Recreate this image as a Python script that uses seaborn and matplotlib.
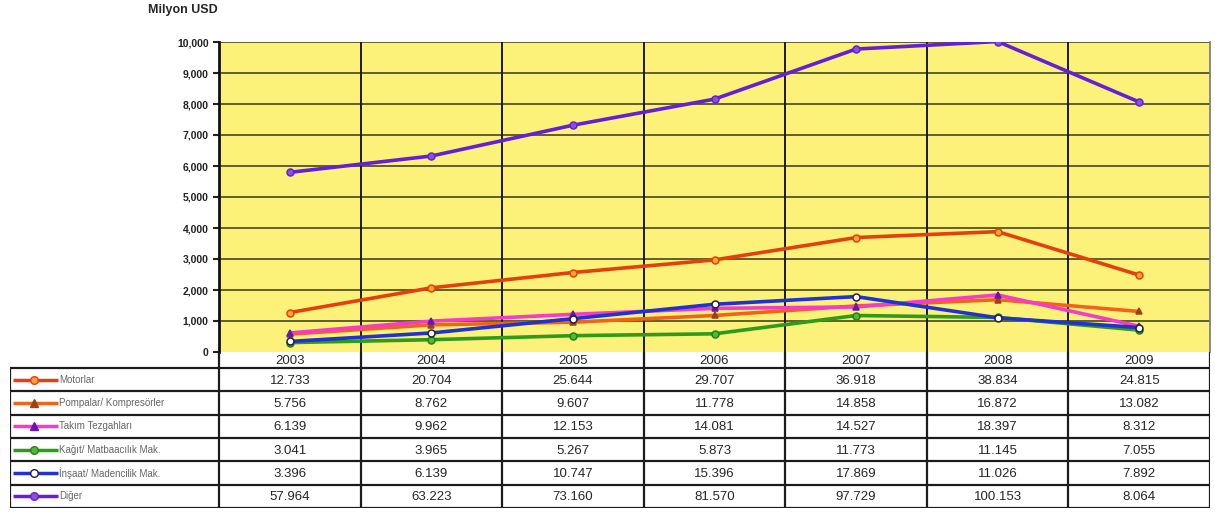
import numpy as np
import pandas as pd
import seaborn as sns
import matplotlib.pyplot as plt
from matplotlib.ticker import FuncFormatter
plt.switch_backend('Agg')

years = ["2003", "2004", "2005", "2006", "2007", "2008", "2009"]
names = ["Motorlar", "Pompalar/ Kompresörler", "Takım Tezgahları",
         "Kağıt/ Matbaacılık Mak.", "İnşaat/ Madencilik Mak.", "Diğer"]

# plotted values (Milyon USD)
motorlar = [1273, 2070, 2564, 2971, 3692, 3883, 2482]
pompalar = [576, 876, 961, 1178, 1486, 1687, 1308]
takim = [614, 996, 1215, 1408, 1453, 1840, 831]
kagit = [304, 397, 527, 587, 1177, 1115, 706]
insaat = [340, 614, 1075, 1540, 1787, 1103, 789]
diger = [5796, 6322, 7316, 8157, 9773, 10015, 8064]

# values as printed in the data table
motorlar_txt = ["12.733", "20.704", "25.644", "29.707", "36.918", "38.834", "24.815"]
pompalar_txt = ["5.756", "8.762", "9.607", "11.778", "14.858", "16.872", "13.082"]
takim_txt = ["6.139", "9.962", "12.153", "14.081", "14.527", "18.397", "8.312"]
kagit_txt = ["3.041", "3.965", "5.267", "5.873", "11.773", "11.145", "7.055"]
insaat_txt = ["3.396", "6.139", "10.747", "15.396", "17.869", "11.026", "7.892"]
diger_txt = ["57.964", "63.223", "73.160", "81.570", "97.729", "100.153", "8.064"]

values = [motorlar, pompalar, takim, kagit, insaat, diger]
texts = [motorlar_txt, pompalar_txt, takim_txt, kagit_txt, insaat_txt, diger_txt]

# line colour, marker, marker face, marker edge
styles = {
    "Motorlar": ("#e2410f", "o", "#f6a531", "#e2410f"),
    "Pompalar/ Kompresörler": ("#f0641a", "^", "#a0401a", "#a0401a"),
    "Takım Tezgahları": ("#f43cc8", "^", "#6a14b4", "#6a14b4"),
    "Kağıt/ Matbaacılık Mak.": ("#2f9a1c", "o", "#46c030", "#2f7a1c"),
    "İnşaat/ Madencilik Mak.": ("#1f32d2", "o", "#ffffff", "#202040"),
    "Diğer": ("#6420d4", "o", "#8a50e0", "#6420d4"),
}

rows = []
for n, v in zip(names, values):
    for i, y in enumerate(years):
        rows.append({"series": n, "pos": i, "value": v[i]})
df = pd.DataFrame(rows)

sns.set_style("white")
plt.rcParams['font.family'] = ['Liberation Sans', 'DejaVu Sans']

W, H = 1215, 513
fig = plt.figure(figsize=(W / 100, H / 100), dpi=100)
fig.patch.set_facecolor("white")

ax = fig.add_axes([219 / W, (H - 352) / H, 991 / W, 310 / H])
ax.set_facecolor("#fcf27a")
ax.set_xlim(-0.5, 6.5)
ax.set_ylim(0, 10000)
ax.set_yticks(np.arange(0, 10001, 1000))
ax.yaxis.set_major_formatter(FuncFormatter(lambda v, p: f"{v:,.0f}"))
ax.tick_params(axis="y", labelsize=7.5, colors="#222", length=4, width=1.5, direction="out", left=True)
for t in ax.get_yticklabels():
    t.set_fontweight("bold")
ax.set_xticks([])
for yv in np.arange(1000, 10001, 1000):
    ax.axhline(yv, color="#55532a", lw=1.3, zorder=1)
for k in range(1, 7):
    ax.axvline(k - 0.5, color="#1a1a1a", lw=1.4, zorder=1)
for s in ["top", "bottom"]:
    ax.spines[s].set_visible(False)
ax.spines["left"].set_color("#111")
ax.spines["left"].set_linewidth(2)
ax.spines["right"].set_color("#777")
ax.spines["right"].set_linewidth(1.2)

draw_order = ["Diğer", "Motorlar", "Pompalar/ Kompresörler", "Kağıt/ Matbaacılık Mak.",
              "Takım Tezgahları", "İnşaat/ Madencilik Mak."]
for n in draw_order:
    c, m, fc, ec = styles[n]
    sns.lineplot(data=df[df.series == n], x="pos", y="value", ax=ax, color=c, lw=2.6,
                 marker=m, markersize=5, markerfacecolor=fc, markeredgecolor=ec,
                 markeredgewidth=1.1, legend=False, zorder=3)
ax.set_xlabel("")
ax.set_ylabel("")
ax.set_xlim(-0.5, 6.5)
ax.set_ylim(0, 10000)

fig.text(148 / W, 1 - 10 / H, "Milyon USD", fontsize=9, fontweight="bold", va="center", ha="left")

# data table
tax = fig.add_axes([10 / W, (H - 508) / H, 1200 / W, 156 / H])
px = 991 / 7
lab_w = 209 / px
x0 = -0.5 - lab_w
tax.set_xlim(x0, 6.5)
tax.set_ylim(156, 0)
tax.axis("off")
hdr = 16
rh = (156 - hdr) / 6
lc = "#1c1c1c"
tax.hlines(hdr, x0, 6.5, color=lc, lw=1.6)
for i in range(1, 7):
    tax.hlines(hdr + i * rh, x0, 6.5, color=lc, lw=1.6)
tax.vlines(x0, hdr, 156, color=lc, lw=1.6)
for k in range(8):
    tax.vlines(k - 0.5, 0, 156, color=lc, lw=1.6)
for i, y in enumerate(years):
    tax.text(i, hdr / 2 + 1, y, ha="center", va="center", fontsize=9.5)
for r, (n, tx) in enumerate(zip(names, texts)):
    yc = hdr + (r + 0.5) * rh
    c, m, fc, ec = styles[n]
    tax.plot([x0 + 3 / px, x0 + 48 / px], [yc, yc], color=c, lw=2.5, solid_capstyle="butt")
    tax.plot([x0 + 24 / px], [yc], marker=m, markersize=5.5, markerfacecolor=fc,
             markeredgecolor=ec, markeredgewidth=1)
    tax.text(x0 + 49 / px, yc, n, ha="left", va="center", fontsize=7, color="#666")
    for i, t in enumerate(tx):
        tax.text(i, yc + 1, t, ha="center", va="center", fontsize=9.5)

fig.savefig("out.png", dpi=100)
